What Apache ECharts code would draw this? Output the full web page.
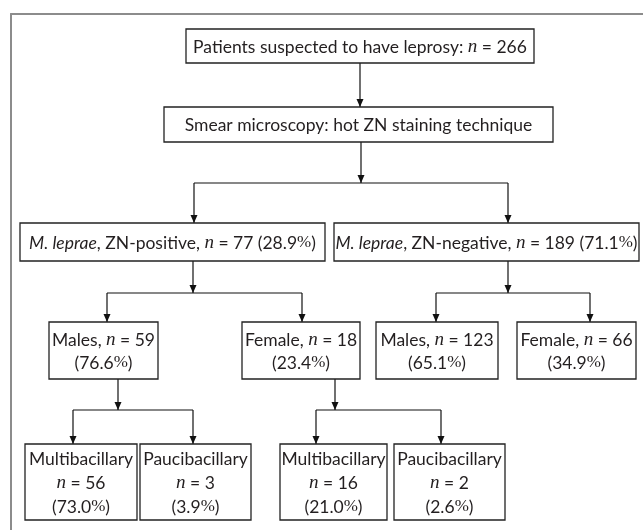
<!DOCTYPE html>
<html><head><meta charset="utf-8">
<script src="https://cdn.jsdelivr.net/npm/echarts@6/dist/echarts.min.js"></script>
<style>html,body{margin:0;padding:0;background:#fff}#c{width:643px;height:530px}</style>
</head><body><div id="c"></div>
<script>
// ---- data ----
const nodeIds = ['all','smear','pos','neg','posM','posF','negM','negF','posMmb','posMpb','posFmb','posFpb'];
const nodeTitles = ['Patients suspected to have leprosy:', 'Smear microscopy: hot ZN staining technique',
  'M. leprae, ZN-positive,', 'M. leprae, ZN-negative,', 'Males,', 'Female,', 'Males,', 'Female,',
  'Multibacillary', 'Paucibacillary', 'Multibacillary', 'Paucibacillary'];
const nodeCounts = [266, null, 77, 189, 59, 18, 123, 66, 56, 3, 16, 2];
const nodePercents = [null, null, '28.9', '71.1', '76.6', '23.4', '65.1', '34.9', '73.0', '3.9', '21.0', '2.6'];
const links = [['all','smear'],['smear','pos'],['smear','neg'],['pos','posM'],['pos','posF'],
  ['neg','negM'],['neg','negF'],['posM','posMmb'],['posM','posMpb'],['posF','posFmb'],['posF','posFpb']];

// ---- layout (positions in chart units) ----
const boxLayout = {
  all:   [186, 29, 534, 63],  smear: [164, 107, 553, 142],
  pos:   [20, 223, 325, 261], neg:   [334, 223, 639, 261],
  posM:  [49, 322, 158, 379], posF:  [242, 322, 360, 379],
  negM:  [376, 322, 498, 379], negF: [517, 322, 636, 379],
  posMmb:[25, 444, 137, 520], posMpb:[140, 444, 251, 520],
  posFmb:[280, 444, 387, 520], posFpb:[394, 444, 505, 520]
};
const lineMode = {all:1, smear:1, pos:1, neg:1, posM:2, posF:2, negM:2, negF:2, posMmb:3, posMpb:3, posFmb:3, posFpb:3};
const dropX = {all:360, smear:361, pos:193, neg:508, posM:118, posF:335};
const barY = {smear:183, pos:293, neg:293, posM:410, posF:410};
const inX = {smear:360, pos:194, neg:508, posM:107, posF:302, negM:436, negF:590,
  posMmb:73, posMpb:193, posFmb:316, posFpb:441};

function label(i) {
  const id = nodeIds[i];
  const t = nodeTitles[i];
  const n = nodeCounts[i];
  const p = nodePercents[i];
  const mode = lineMode[id];
  let title = t;
  if (t.indexOf('M. leprae') === 0) title = '{it|M. leprae}' + t.slice(9);
  if (n === null) return title;
  const nPart = '{i|n} = ' + n;
  const pPart = p !== null ? '(' + p + '{p|%})' : '';
  if (mode === 1) return title + ' ' + nPart + (pPart ? ' ' + pPart : '');
  if (mode === 2) return title + ' ' + nPart + '\n' + pPart;
  return title + '\n' + nPart + '\n' + pPart;
}

const FONT = 'Lato, "Open Sans", sans-serif';
const FS = 17.5;
const TXT = '#231f20';
const rich = {
  it: {fontFamily: FONT, fontStyle: 'italic', fontSize: FS, color: TXT},
  i: {fontFamily: '"Liberation Serif", serif', fontStyle: 'italic', fontSize: 19, color: TXT},
  p: {fontFamily: '"Liberation Serif", serif', fontSize: 17, color: TXT}
};

const chart = echarts.init(document.getElementById('c'), null, {renderer: 'canvas'});

function arrowHead(api, x, yTip) {
  const a = api.coord([x, yTip]);
  return {type: 'polygon', shape: {points: [[a[0], a[1]], [a[0] - 3.5, a[1] - 8], [a[0] + 3.5, a[1] - 8]]},
    style: {fill: '#111'}};
}
function seg(api, x1, y1, x2, y2) {
  const a = api.coord([x1, y1]), b = api.coord([x2, y2]);
  return {type: 'line', shape: {x1: a[0], y1: a[1], x2: b[0], y2: b[1]}, style: {stroke: '#111', lineWidth: 1.2}};
}

chart.setOption({
  animation: false,
  grid: {left: 11, top: 14, right: 0, bottom: 0},
  xAxis: {type: 'value', min: 11, max: 643, position: 'top', splitLine: {show: false},
    axisTick: {show: false}, axisLabel: {show: false},
    axisLine: {show: true, lineStyle: {color: '#8c8c8c', width: 2}}},
  yAxis: {type: 'value', min: 14, max: 530, inverse: true, splitLine: {show: false},
    axisTick: {show: false}, axisLabel: {show: false},
    axisLine: {show: true, lineStyle: {color: '#8c8c8c', width: 2}}},
  series: [
    {
      type: 'custom', coordinateSystem: 'cartesian2d', silent: true, clip: false,
      data: links.map((l, k) => [k]),
      renderItem: function (params, api) {
        const k = api.value(0);
        const [p, c] = links[k];
        const pb = boxLayout[p], cb = boxLayout[c];
        const children = [];
        if (barY[p] === undefined) {
          children.push(seg(api, dropX[p], pb[3], dropX[p], cb[1]));
          children.push(arrowHead(api, dropX[p], cb[1]));
        } else {
          const sibs = links.filter(l => l[0] === p).map(l => inX[l[1]]);
          if (links.findIndex(l => l[0] === p) === k) {
            children.push(seg(api, dropX[p], pb[3], dropX[p], barY[p]));
            children.push(arrowHead(api, dropX[p], barY[p]));
            children.push(seg(api, Math.min.apply(null, sibs), barY[p], Math.max.apply(null, sibs), barY[p]));
          }
          children.push(seg(api, inX[c], barY[p], inX[c], cb[1]));
          children.push(arrowHead(api, inX[c], cb[1]));
        }
        return {type: 'group', children: children};
      }
    },
    {
      type: 'custom', coordinateSystem: 'cartesian2d', silent: true, clip: false,
      data: nodeIds.map((id, i) => [i]),
      renderItem: function (params, api) {
        const i = api.value(0);
        const b = boxLayout[nodeIds[i]];
        const a = api.coord([b[0], b[1]]), z = api.coord([b[2], b[3]]);
        const mode = lineMode[nodeIds[i]];
        return {type: 'group', children: [
          {type: 'rect', shape: {x: a[0], y: a[1], width: z[0] - a[0], height: z[1] - a[1]},
            style: {fill: '#fff', stroke: '#222', lineWidth: 1.3}},
          {type: 'text', style: {x: (a[0] + z[0]) / 2, y: (a[1] + z[1]) / 2 + 1, text: label(i), rich: rich,
            align: 'center', verticalAlign: 'middle', fontFamily: FONT, fontSize: FS, fill: TXT,
            lineHeight: mode === 3 ? 24 : 23}}
        ]};
      }
    }
  ]
});
</script></body></html>
